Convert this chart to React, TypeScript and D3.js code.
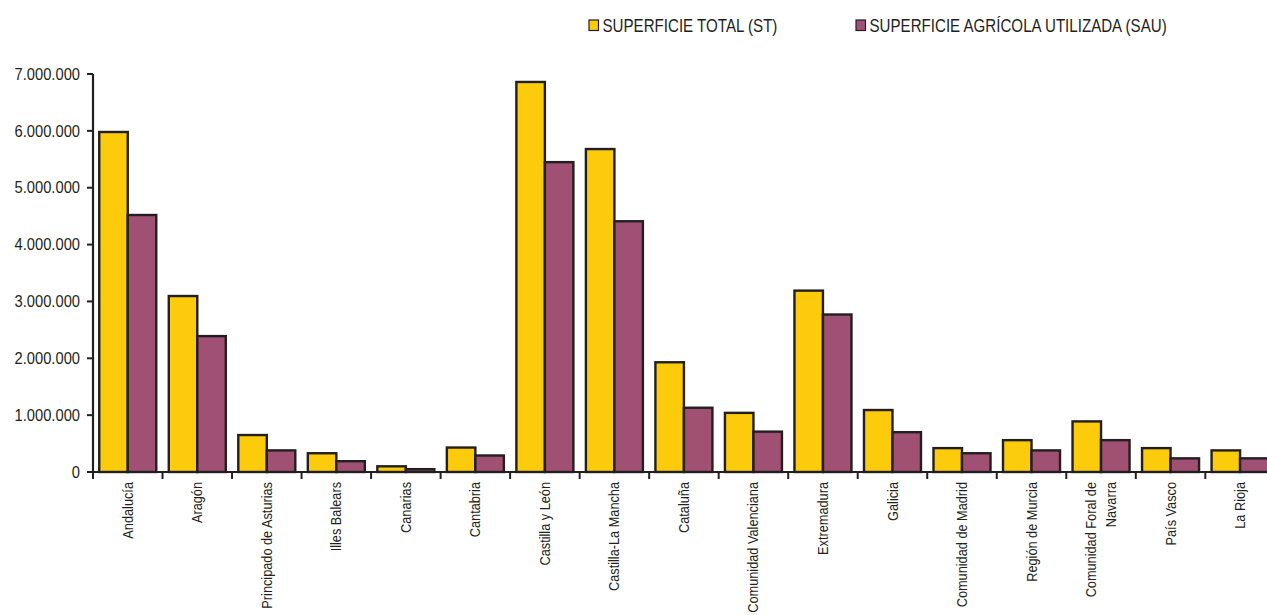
import React from 'react';
import * as d3 from 'd3';

// Comunidades autónomas
const regions: string[][] = [
  ['Andalucía'],
  ['Aragón'],
  ['Principado de Asturias'],
  ['Illes Balears'],
  ['Canarias'],
  ['Cantabria'],
  ['Castilla y León'],
  ['Castilla-La Mancha'],
  ['Cataluña'],
  ['Comunidad Valenciana'],
  ['Extremadura'],
  ['Galicia'],
  ['Comunidad de Madrid'],
  ['Región de Murcia'],
  ['Comunidad Foral de', 'Navarra'],
  ['País Vasco'],
  ['La Rioja'],
];

// hectáreas
const superficieTotal = [
  5980000, 3095000, 650000, 330000, 100000, 430000, 6860000, 5680000, 1930000,
  1040000, 3190000, 1090000, 420000, 560000, 890000, 420000, 380000,
];
const superficieSAU = [
  4520000, 2390000, 380000, 190000, 50000, 290000, 5450000, 4410000, 1130000,
  710000, 2770000, 700000, 330000, 380000, 560000, 240000, 240000,
];

const seriesNames = ['SUPERFICIE TOTAL (ST)', 'SUPERFICIE AGRÍCOLA UTILIZADA (SAU)'];
const seriesColors = ['#fccb0b', '#a05072'];
const yTicks = [0, 1000000, 2000000, 3000000, 4000000, 5000000, 6000000, 7000000];

const WIDTH = 1267;
const HEIGHT = 615;
const INK = '#231f20';
const FONT = '"Liberation Sans", Arial, Helvetica, sans-serif';

const fmt = (v: number) => (v === 0 ? '0' : d3.format(',')(v).replace(/,/g, '.'));

const App: React.FC = () => {
  const left = 93;
  const step = 69.52;
  const keys = regions.map((r) => r.join(' '));

  const x = d3
    .scaleBand<string>()
    .domain(keys)
    .range([left, left + step * keys.length])
    .paddingInner(0.18)
    .paddingOuter(0.09);

  const xInner = d3.scaleBand<string>().domain(['st', 'sau']).range([0, x.bandwidth()]);

  const y = d3.scaleLinear().domain([0, 7000000]).range([472, 74]);

  const values = [superficieTotal, superficieSAU];
  const tickXs = d3.range(keys.length + 1).map((i) => left + i * x.step());

  return (
    <svg
      width={WIDTH}
      height={HEIGHT}
      style={{ position: 'absolute', left: 0, top: 0, background: '#fff' }}
      fontFamily={FONT}
    >
      {/* legend */}
      {seriesNames.map((name, i) => {
        const lx = i === 0 ? 589 : 856;
        return (
          <g key={name}>
            <rect x={lx} y={20} width={9.5} height={10.5} fill={seriesColors[i]} stroke={INK} strokeWidth={1.2} />
            <g transform={`translate(${lx + 13.5},31.5) scale(0.84,1)`}>
              <text fontSize={18} fill={INK}>
                {name}
              </text>
            </g>
          </g>
        );
      })}

      {/* bars */}
      {keys.map((k, i) =>
        ['st', 'sau'].map((s, j) => {
          const v = values[j][i];
          const bx = (x(k) || 0) + (xInner(s) || 0);
          return (
            <rect
              key={k + s}
              x={bx}
              y={y(v)}
              width={xInner.bandwidth()}
              height={y(0) - y(v)}
              fill={seriesColors[j]}
              stroke={INK}
              strokeWidth={2.4}
            />
          );
        })
      )}

      {/* y axis */}
      <line x1={left} x2={left} y1={y(7000000)} y2={y(0)} stroke={INK} strokeWidth={2.2} />
      {yTicks.map((t) => (
        <g key={t}>
          <line x1={left - 6} x2={left} y1={y(t)} y2={y(t)} stroke={INK} strokeWidth={2} />
          <g transform={`translate(80,${y(t)}) scale(0.92,1)`}>
            <text fontSize={16} textAnchor="end" dy="0.36em" fill={INK}>
              {fmt(t)}
            </text>
          </g>
        </g>
      ))}

      {/* x axis */}
      <line x1={left} x2={WIDTH} y1={y(0)} y2={y(0)} stroke={INK} strokeWidth={2.2} />
      {tickXs.map((tx, i) => (
        <line key={i} x1={tx} x2={tx} y1={y(0)} y2={y(0) + 7} stroke={INK} strokeWidth={2} />
      ))}
      {regions.map((lines, i) => {
        const cx = (x(keys[i]) || 0) + x.bandwidth() / 2;
        return (
          <g key={keys[i]} transform={`translate(${cx},482) rotate(-90) scale(0.91,1)`}>
            {lines.map((line, li) => (
              <text
                key={li}
                fontSize={14}
                textAnchor="end"
                dy="0.36em"
                y={(li - (lines.length - 1) / 2) * 20}
                fill={INK}
              >
                {line}
              </text>
            ))}
          </g>
        );
      })}
    </svg>
  );
};

export default App;
